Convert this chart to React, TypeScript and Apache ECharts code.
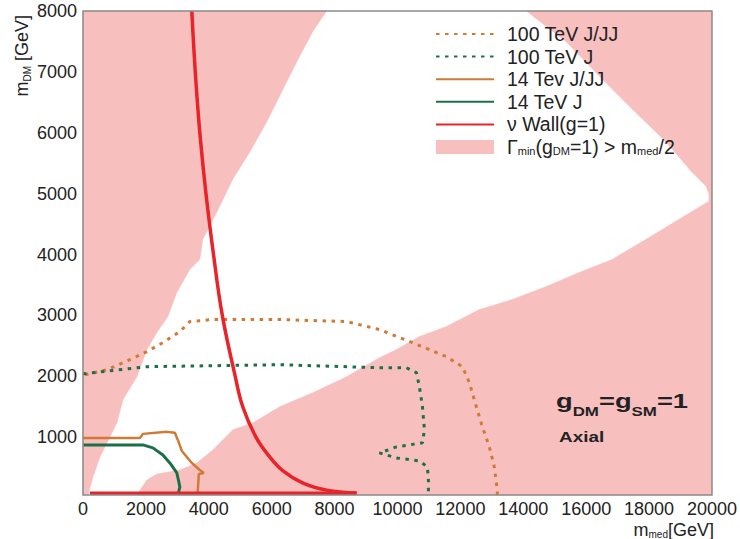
import React, { useEffect, useRef } from "react";
import * as echarts from "echarts";

// ---------------- data ----------------
const xMin = 0;
const xMax = 20000;
const xInterval = 2000;
const yMin = 50;
const yMax = 8000;
const yTickValues = [1000, 2000, 3000, 4000, 5000, 6000, 7000, 8000];

// allowed (white) region boundaries
const whiteLeftEdge: number[][] = [
  [159, 50], [317, 346], [540, 675], [762, 906], [1079, 1235], [1270, 1614],
  [1714, 1993], [2032, 2438], [2349, 2718], [2698, 2981], [2984, 3376],
  [3397, 3755], [3714, 3920], [3810, 4249], [4254, 4694], [4762, 5237],
  [5302, 5682], [5841, 6176], [6254, 6604], [6794, 7164], [7302, 7658], [7746, 8000],
];
const whiteLowerEdge: number[][] = [
  [1746, 50], [1810, 132], [2032, 296], [2349, 395], [3079, 461], [3619, 576],
  [4127, 791], [4762, 1120], [5397, 1235], [6254, 1499], [7302, 1729],
  [8381, 1993], [9429, 2306], [9968, 2438], [10698, 2652], [11556, 2816],
  [12603, 3096], [13651, 3261], [14730, 3475], [15778, 3706], [16825, 3920],
  [17905, 4249], [18952, 4578], [19905, 4875], [19905, 4990],
];
const whiteUpperRightEdge: number[][] = [
  [19810, 5122], [19365, 5353], [18540, 5847], [17460, 6390], [16413, 6934],
  [15365, 7494], [14095, 8000],
];

const tev100JJJ: number[][] = [
  [63, 2026], [762, 2108], [1492, 2273], [2032, 2405], [2540, 2553], [3079, 2734],
  [3397, 2899], [4127, 2932], [6254, 2932], [8381, 2899], [9429, 2767],
  [10476, 2553], [11556, 2322], [12063, 2158], [12286, 1894], [12508, 1499],
  [12698, 1169], [12921, 840], [13079, 511], [13175, 132], [13175, 50],
];
const tev100J: number[][] = [
  [0, 2040], [2032, 2158], [6254, 2190], [9429, 2141], [10286, 2141],
  [10603, 2059], [10698, 1828], [10794, 1499], [10857, 1120], [10794, 906],
  [9968, 840], [9429, 741], [9968, 659], [10698, 609], [10952, 511],
  [10984, 296], [10984, 60],
];
const tev14JJJ: number[][] = [
  [0, 988], [1810, 988], [1905, 1054], [2667, 1087], [2921, 1071], [3016, 955],
  [3143, 774], [3460, 576], [3714, 461], [3841, 412], [3683, 395], [3651, 132], [3651, 50],
];
const tev14J: number[][] = [
  [0, 873], [1905, 873], [2222, 824], [2540, 708], [2762, 576], [2984, 412],
  [3048, 264], [3079, 181], [3016, 50],
];
const nuWallCurve: number[][] = [
  [3460, 8000], [3570, 7000], [3715, 6000], [3910, 5000], [4150, 4000],
  [4430, 3000], [4840, 2000], [5080, 1500], [5500, 1000], [5900, 700],
  [6350, 450], [6980, 250], [7750, 130], [8700, 82],
];
const nuWallFloor: number[][] = [[222, 80], [8700, 80]];

const NAME_100JJJ = "100 TeV J/JJ";
const NAME_100J = "100 TeV J";
const NAME_14JJJ = "14 Tev J/JJ";
const NAME_14J = "14 TeV J";
const NAME_NU = "ν Wall(g=1)";
const NAME_GAMMA = "Gamma";

// ---------------- styles ----------------
const PINK = "#f8bfbf";
const ORANGE = "#cf7a35";
const GREEN = "#1c7048";
const RED = "#e8242a";
const TEXT = "#222";
const FONT = "'Liberation Sans', Arial, Helvetica, sans-serif";

const pinkPolygons: number[][][] = [
  [[xMin, yMin], ...whiteLeftEdge, [xMin, yMax]],
  [[xMax, yMax], [xMax, yMin], ...whiteLowerEdge, ...whiteUpperRightEdge],
];

function buildOption(): any {
  const lineSeries = (name: string, data: number[][], color: string, dotted: boolean, width: number, smooth: boolean | number = false) => ({
    type: "line",
    name,
    data,
    symbol: "none",
    smooth,
    z: 5,
    lineStyle: {
      color,
      width,
      type: dotted ? [3.5, 5.5] : "solid",
    },
    itemStyle: { color },
  });

  return {
    animation: false,
    textStyle: { fontFamily: FONT },
    grid: {
      left: 83,
      right: 27,
      top: 11,
      bottom: 44,
      show: true,
      z: 10,
      backgroundColor: "transparent",
      borderColor: "#8c8c8c",
      borderWidth: 1.5,
    },
    xAxis: {
      type: "value",
      min: xMin,
      max: xMax,
      interval: xInterval,
      axisLine: { show: false },
      axisTick: { show: false },
      splitLine: { show: false },
      axisLabel: {
        fontSize: 18, color: TEXT, margin: 5, fontFamily: FONT,
        formatter: (v: number) => String(v),
      },
    },
    yAxis: {
      type: "value",
      min: yMin,
      max: yMax,
      axisLine: { show: false },
      axisTick: { show: false },
      splitLine: { show: false },
      axisLabel: {
        fontSize: 18, color: TEXT, margin: 6, fontFamily: FONT, customValues: yTickValues,
        formatter: (v: number) => String(v),
      },
    },
    legend: {
      orient: "vertical",
      left: 430,
      top: 19,
      itemWidth: 58,
      itemHeight: 14,
      itemGap: 2.6,
      itemStyle: { opacity: 0 },
      data: [
        { name: NAME_100JJJ },
        { name: NAME_100J },
        { name: NAME_14JJJ },
        { name: NAME_14J },
        { name: NAME_NU },
        { name: NAME_GAMMA, icon: "rect", itemStyle: { opacity: 1, color: PINK } },
      ],
      formatter: (name: string) =>
        name === NAME_GAMMA
          ? "{n|Γ}{s|min}{n|(g}{s|DM}{n|=1) > m}{s|med}{n|/2}"
          : "{n|" + name + "}",
      textStyle: {
        color: TEXT,
        fontSize: 19.5,
        fontFamily: FONT,
        padding: [0, 0, 0, 8],
        rich: {
          n: { fontSize: 19.5, lineHeight: 18, color: TEXT, fontFamily: FONT },
          s: { fontSize: 11, lineHeight: 7, color: TEXT, fontFamily: FONT, verticalAlign: "bottom" },
        },
      },
    },
    series: [
      {
        type: "custom",
        name: NAME_GAMMA,
        z: 1,
        itemStyle: { color: PINK },
        data: pinkPolygons.map((_, i) => [i]),
        encode: { x: 0 },
        renderItem: (params: any, api: any) => {
          const poly = pinkPolygons[params.dataIndex];
          const points = poly.map((p) => api.coord(p));
          return {
            type: "polygon",
            shape: { points },
            style: { fill: PINK, stroke: PINK, lineWidth: 0.5 },
          };
        },
      },
      lineSeries(NAME_100JJJ, tev100JJJ, ORANGE, true, 3),
      lineSeries(NAME_100J, tev100J, GREEN, true, 3),
      lineSeries(NAME_14JJJ, tev14JJJ, ORANGE, false, 2.5),
      lineSeries(NAME_14J, tev14J, GREEN, false, 3),
      lineSeries(NAME_NU, nuWallCurve, RED, false, 3.5, 0.4),
      lineSeries(NAME_NU, nuWallFloor, RED, false, 3.5),
    ],
    graphic: [
      {
        type: "text",
        x: 22,
        y: 15,
        rotation: Math.PI / 2,
        style: {
          text: "{n|m}{s|DM}{n| [GeV]}",
          align: "right",
          verticalAlign: "middle",
          fill: TEXT,
          rich: {
            n: { fontSize: 18, lineHeight: 20, fontFamily: FONT, fill: TEXT },
            s: { fontSize: 10, lineHeight: 8, fontFamily: FONT, fill: TEXT, verticalAlign: "bottom" },
          },
        },
      },
      {
        type: "text",
        x: 714,
        y: 530,
        style: {
          text: "{n|m}{s|med}{n|[GeV]}",
          align: "right",
          verticalAlign: "middle",
          fill: TEXT,
          rich: {
            n: { fontSize: 18, lineHeight: 18, fontFamily: FONT, fill: TEXT },
            s: { fontSize: 10, lineHeight: 6, fontFamily: FONT, fill: TEXT, verticalAlign: "bottom" },
          },
        },
      },
      {
        type: "text",
        x: 556,
        y: 401,
        scaleX: 1.3,
        z: 20,
        style: {
          text: "{n|g}{s|DM}{n|=g}{s|SM}{n|=1}",
          align: "left",
          verticalAlign: "middle",
          fill: TEXT,
          rich: {
            n: { fontSize: 21, lineHeight: 34, fontWeight: "bold", fontFamily: FONT, fill: TEXT },
            s: { fontSize: 13, lineHeight: 5, fontWeight: "bold", fontFamily: FONT, fill: TEXT, verticalAlign: "bottom" },
          },
        },
      },
      {
        type: "text",
        x: 559,
        y: 437,
        scaleX: 1.35,
        z: 20,
        style: {
          text: "Axial",
          align: "left",
          verticalAlign: "middle",
          fill: TEXT,
          fontSize: 14,
          fontWeight: "bold",
          fontFamily: FONT,
        },
      },
    ],
  };
}

export default function App() {
  const ref = useRef<HTMLDivElement>(null);
  useEffect(() => {
    if (!ref.current) return;
    const chart = echarts.init(ref.current, null, { renderer: "svg" });
    chart.setOption(buildOption());
    return () => chart.dispose();
  }, []);
  return (
    <div
      ref={ref}
      style={{ position: "fixed", left: 0, top: 0, width: 740, height: 539, background: "#fff" }}
    />
  );
}
